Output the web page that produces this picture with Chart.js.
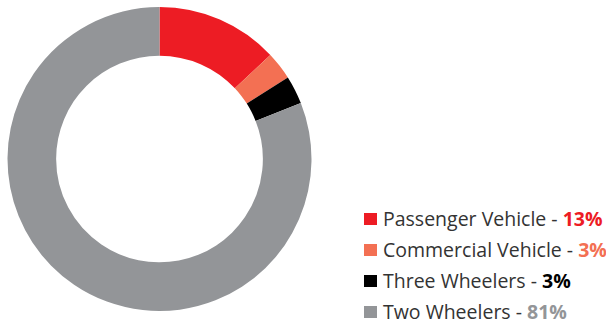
<!DOCTYPE html>
<html>
<head>
<meta charset="utf-8">
<script src="https://cdn.jsdelivr.net/npm/chart.js@4.4.1/dist/chart.umd.min.js"></script>
<style>
  html, body { margin: 0; padding: 0; background: #fff; }
  #wrap { position: relative; width: 606px; height: 320px; overflow: hidden; }
  #donut { position: absolute; left: 0; top: 0; width: 319px; height: 318px; }
  #legend { position: absolute; left: 364px; top: 203px; font-family: "Open Sans", sans-serif; font-size: 19.5px; color: #333; }
  .row { height: 31px; display: flex; align-items: center; white-space: pre; }
  .sw { width: 13px; height: 12px; margin-right: 6px; flex: none; }
  .pct { font-weight: 700; }
</style>
</head>
<body>
<div id="wrap">
  <div id="donut"><canvas id="c"></canvas></div>
  <div id="legend"></div>
</div>
<script>
// Vehicle segment shares (%)
const categories = ["Passenger Vehicle", "Commercial Vehicle", "Three Wheelers", "Two Wheelers"];
const shares = [13, 3, 3, 81];
const colors = ["#ED1C24", "#F37053", "#000000", "#939598"];

const chart = new Chart(document.getElementById("c"), {
  type: "doughnut",
  data: {
    labels: categories,
    datasets: [{
      data: shares,
      backgroundColor: colors,
      borderWidth: 0,
      hoverOffset: 0
    }]
  },
  options: {
    responsive: true,
    maintainAspectRatio: false,
    animation: false,
    cutout: "68%",
    layout: { padding: 7 },
    plugins: {
      legend: { display: false },
      tooltip: { enabled: false }
    }
  }
});

// Legend built from the chart's own data
const legend = document.getElementById("legend");
chart.data.labels.forEach((label, i) => {
  const row = document.createElement("div");
  row.className = "row";
  const sw = document.createElement("span");
  sw.className = "sw";
  sw.style.background = colors[i];
  const txt = document.createElement("span");
  txt.textContent = label + " - ";
  const pct = document.createElement("span");
  pct.className = "pct";
  pct.style.color = colors[i];
  pct.textContent = chart.data.datasets[0].data[i] + "%";
  row.append(sw, txt, pct);
  legend.appendChild(row);
});
</script>
</body>
</html>
